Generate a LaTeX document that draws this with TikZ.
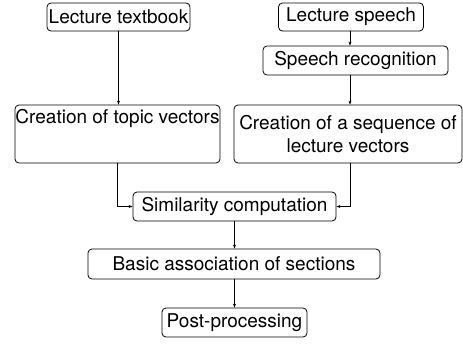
\documentclass[tikz,border=0pt]{standalone}
\usepackage{fontspec}
\setmainfont{TeX Gyre Heros}
\usetikzlibrary{arrows.meta}
\begin{document}
\begin{tikzpicture}[x=1pt,y=-1pt,
  box/.style={draw, line width=0.8pt, rounded corners=4pt, inner sep=0pt, align=center,
    font=\fontsize{19}{23}\selectfont},
  arr/.style={draw, line width=0.8pt, -{Stealth[length=4pt,width=3pt]}}]
\useasboundingbox (0,0) rectangle (463,343);
\node[box, minimum width=143, minimum height=28] (tb) at (118.5,17) {Lecture textbook};
\node[box, minimum width=145, minimum height=28] (ls) at (351,17) {Lecture speech};
\node[box, minimum width=185, minimum height=29] (sr) at (355.5,60.5) {Speech recognition};
\node[box, minimum width=205, minimum height=58] (tv) at (117.5,134) {};
\node[font=\fontsize{19}{23}\selectfont, anchor=north, inner sep=0pt] (tvt) at ([yshift=-5pt]tv.north) {Creation of topic vectors};
\node[box, minimum width=228, minimum height=58] (sq) at (348,134) {Creation of a sequence of\\lecture vectors};
\node[box, minimum width=203, minimum height=29] (sc) at (234.5,206.5) {Similarity computation};
\node[box, minimum width=292, minimum height=30] (ba) at (234,264) {Basic association of sections};
\node[box, minimum width=145, minimum height=29] (pp) at (234.5,322.5) {Post-processing};
\coordinate (sx) at (350,0);
\draw[arr] (tb.south) -- (tb.south |- tv.north);
\draw[arr] (ls.south -| sx) -- (sr.north -| sx);
\draw[arr] (sr.south -| sx) -- (sq.north -| sx);
\draw[arr] (tv.south) |- (sc.west);
\draw[arr] (sq.south -| sx) |- (sc.east);
\draw[arr] (sc.south) -- (sc.south |- ba.north);
\draw[arr] (ba.south -| sc.south) -- (sc.south |- pp.north);
\end{tikzpicture}
\end{document}
